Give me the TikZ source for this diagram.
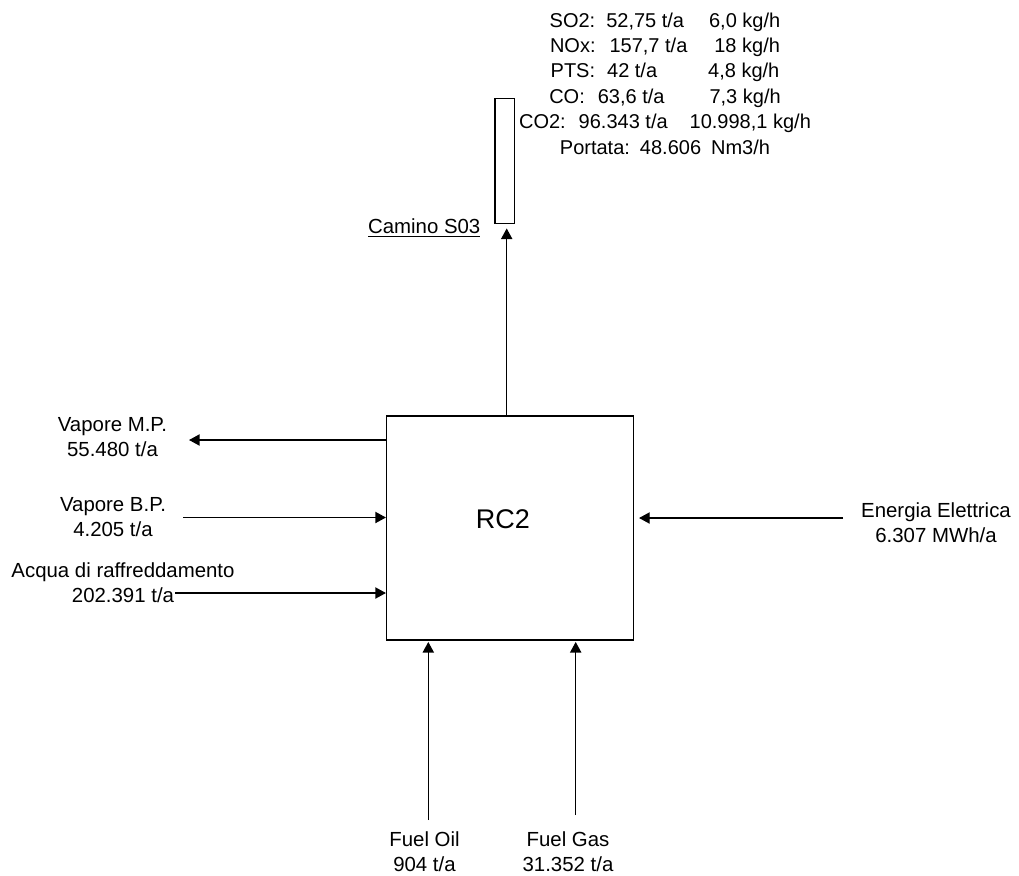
\documentclass[tikz,border=0pt]{standalone}
\usepackage{fontspec}
\setmainfont{Liberation Sans}
\usetikzlibrary{arrows.meta}

\begin{document}
\begin{tikzpicture}[x=0.5pt,y=-0.5pt,>={Triangle[length=5.3pt,width=5.6pt]},line width=0.65pt,
  lbl/.style={align=center,inner sep=0pt,font=\fontsize{10.2}{12.5}\selectfont},
  flow/.style={->}]
\useasboundingbox (0,0) rectangle (1019,875);
% unit RC2 and stack S03
\node[draw,line width=0.75pt,minimum width=123.3pt,minimum height=112pt,inner sep=0pt] (rc2) at (510,528) {};
\node[inner sep=0pt,font=\fontsize{13.5}{16}\selectfont] (rc2name) at (503,519) {RC2};
\node[draw,minimum width=9.6pt,minimum height=62.5pt,inner sep=0pt] (camino) at (504.7,160.7) {};
\node[lbl,anchor=east] (caminolbl) at (481,228) {\underline{Camino S03}};
\node[lbl,font=\fontsize{10}{12.7}\selectfont] (emis) at (665,83.5) {%
  SO2:\hspace{5.5pt}52,75 t/a\hspace{12.5pt}6,0 kg/h\\
  NOx:\hspace{7pt}157,7 t/a\hspace{13.5pt}18 kg/h\\
  PTS:\hspace{6pt}42 t/a\hspace{25.5pt}4,8 kg/h\\
  CO:\hspace{6.5pt}63,6 t/a\hspace{22.5pt}7,3 kg/h\\
  CO2:\hspace{6.5pt}96.343 t/a\hspace{11pt}10.998,1 kg/h\\
  Portata:\hspace{5pt}48.606\hspace{5pt}Nm3/h};
% free ends of the streams
\coordinate (stackx) at (506.7,300);
\coordinate (mpend) at (189,440);
\coordinate (bpstart) at (183,517.5);
\coordinate (acstart) at (175,593);
\coordinate (eestart) at (843,518);
\coordinate (fostart) at (428.3,820);
\coordinate (fgstart) at (575.7,815);
% streams
\draw[flow,shorten >=2.3pt] (rc2.north -| stackx) -- (camino.south -| stackx);
\draw[flow] (rc2.west |- mpend) -- (mpend);
\draw[flow] (bpstart) -- (rc2.west |- bpstart);
\draw[flow] (acstart) -- (rc2.west |- acstart);
\draw[flow,shorten >=2.5pt] (eestart) -- (rc2.east |- eestart);
\draw[flow,shorten >=0.6pt] (fostart) -- (rc2.south -| fostart);
\draw[flow,shorten >=0.6pt] (fgstart) -- (rc2.south -| fgstart);
% labels
\node[lbl] (mplbl) at (112.5,437.5) {Vapore M.P.\\55.480 t/a};
\node[lbl] (bplbl) at (113,517.5) {Vapore B.P.\\4.205 t/a};
\node[lbl] (aclbl) at (123,582.5) {Acqua di raffreddamento\\202.391 t/a};
\node[lbl] (eelbl) at (936,522.5) {Energia Elettrica\\6.307 MWh/a};
\node[lbl] (folbl) at (424.5,851.5) {Fuel Oil\\904 t/a};
\node[lbl] (fglbl) at (568,851.5) {Fuel Gas\\31.352 t/a};
\end{tikzpicture}
\end{document}
